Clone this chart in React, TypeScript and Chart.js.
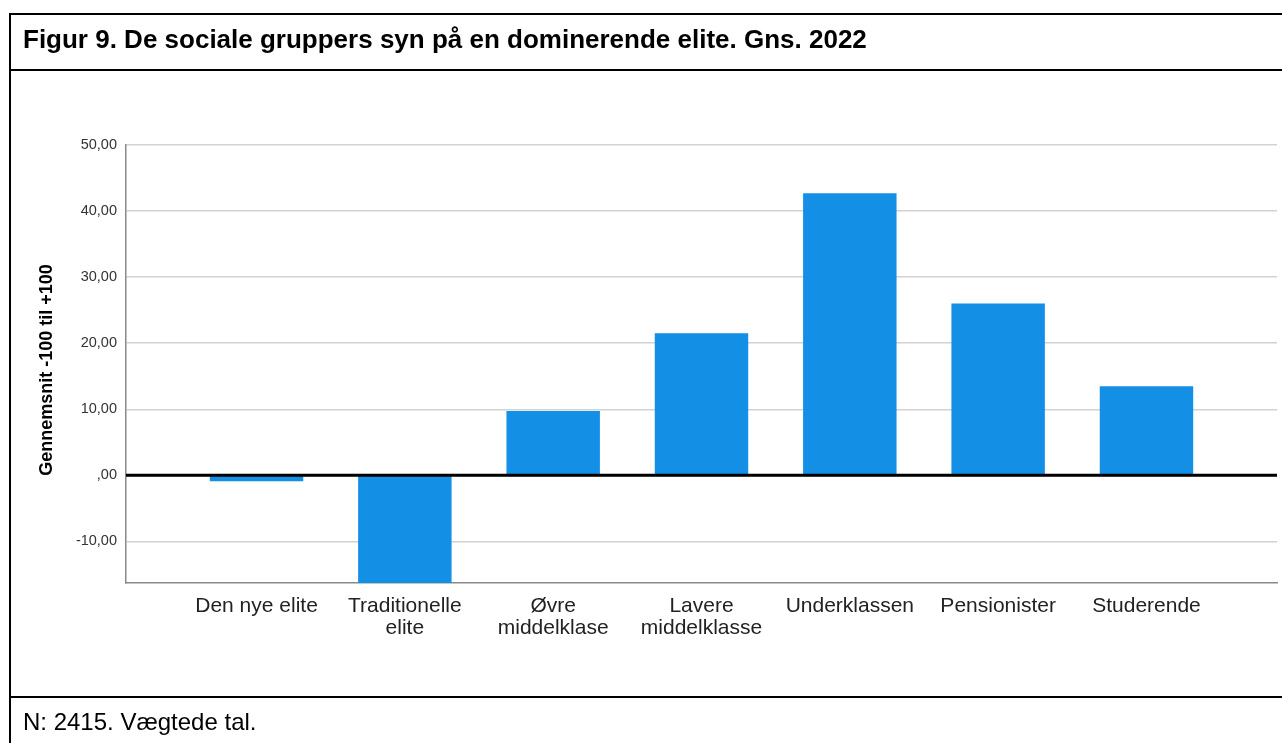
import React, { useEffect, useRef } from "react";
import { Chart, registerables } from "chart.js";

Chart.register(...registerables);

const titleText = "Figur 9. De sociale gruppers syn på en dominerende elite. Gns. 2022";
const footerText = "N: 2415. Vægtede tal.";
const yAxisTitle = "Gennemsnit -100 til +100";

const categories: (string | string[])[] = [
  "Den nye elite",
  ["Traditionelle", "elite"],
  ["Øvre", "middelklase"],
  ["Lavere", "middelklasse"],
  "Underklassen",
  "Pensionister",
  "Studerende",
];

const values: number[] = [-0.9, -18, 9.75, 21.5, 42.7, 26.0, 13.5];

const yMin = -16.3;
const yMax = 50;
const yStep = 10;

const FONT = "'Liberation Sans', Arial, sans-serif";

function formatTick(v: number): string {
  if (Math.abs(v) < 1e-9) return ",00";
  return v.toFixed(2).replace(".", ",");
}

const zeroLinePlugin = {
  id: "zeroLine",
  afterDatasetsDraw(chart: any) {
    const { ctx, chartArea, scales } = chart;
    const y0 = scales.y.getPixelForValue(0);
    ctx.save();
    ctx.strokeStyle = "#000";
    ctx.lineWidth = 3;
    ctx.beginPath();
    ctx.moveTo(chartArea.left, y0);
    ctx.lineTo(chartArea.right, y0);
    ctx.stroke();
    ctx.restore();
  },
};

const yTitlePlugin = {
  id: "yTitle",
  afterDraw(chart: any) {
    const { ctx } = chart;
    ctx.save();
    ctx.translate(47, 370);
    ctx.rotate(-Math.PI / 2);
    ctx.font = `bold 18px ${FONT}`;
    ctx.fillStyle = "#000";
    ctx.textAlign = "center";
    ctx.textBaseline = "middle";
    ctx.fillText(yAxisTitle, 0, 0);
    ctx.restore();
  },
};

export default function App() {
  const ref = useRef<HTMLCanvasElement | null>(null);

  useEffect(() => {
    if (!ref.current) return;
    const chart = new Chart(ref.current, {
      type: "bar",
      data: {
        datasets: [
          {
            data: values.map((v, i) => ({ x: i, y: v })),
            backgroundColor: "#1390e6",
            borderWidth: 0,
            categoryPercentage: 1,
            barPercentage: 0.63,
          },
        ],
      },
      options: {
        responsive: false,
        animation: false,
        devicePixelRatio: 1,
        layout: { padding: { top: 145, right: 5, bottom: 0, left: 0 } },
        plugins: {
          legend: { display: false },
          tooltip: { enabled: false },
        },
        scales: {
          x: {
            type: "linear",
            offset: false,
            min: -0.88,
            max: 6.88,
            grid: { display: false, drawTicks: false, offset: false },
            border: { display: true, color: "#8a8a8a", width: 1.5 },
            afterBuildTicks: (scale: any) => {
              scale.ticks = categories.map((_, i) => ({ value: i }));
            },
            afterFit: (scale: any) => {
              scale.height = 160;
            },
            ticks: {
              autoSkip: false,
              maxRotation: 0,
              minRotation: 0,
              padding: 12,
              color: "#222",
              font: { family: FONT, size: 21, lineHeight: 1.05 },
              callback: (v: any) => categories[Math.round(Number(v))] as any,
            },
          },
          y: {
            min: yMin,
            max: yMax,
            grid: {
              color: "#d2d2d2",
              lineWidth: 1.5,
              drawTicks: false,
            },
            border: { display: true, color: "#8a8a8a", width: 1.5 },
            afterFit: (scale: any) => {
              scale.width = 126;
            },
            ticks: {
              stepSize: yStep,
              includeBounds: false,
              padding: 9,
              color: "#333",
              font: { family: FONT, size: 14.5 },
              callback: (v: any) => formatTick(Number(v)),
            },
          },
        },
      },
      plugins: [zeroLinePlugin, yTitlePlugin],
    } as any);
    return () => chart.destroy();
  }, []);

  return (
    <div style={{ position: "absolute", left: 0, top: 0, width: 1282, height: 743, background: "#fff", overflow: "hidden" }}>
      <canvas ref={ref} width={1282} height={743} style={{ position: "absolute", left: 0, top: 0, width: 1282, height: 743 }} />
      <div style={{ position: "absolute", left: 9, top: 13, width: 2, height: 730, background: "#000" }} />
      <div style={{ position: "absolute", left: 9, top: 13, width: 1273, height: 2, background: "#000" }} />
      <div style={{ position: "absolute", left: 9, top: 69, width: 1273, height: 2, background: "#000" }} />
      <div style={{ position: "absolute", left: 9, top: 696, width: 1273, height: 2, background: "#000" }} />
      <div style={{ position: "absolute", left: 23, top: 13, height: 52, display: "flex", alignItems: "center", fontFamily: FONT, fontWeight: "bold", fontSize: 26, color: "#000", whiteSpace: "nowrap" }}>
        {titleText}
      </div>
      <div style={{ position: "absolute", left: 23, top: 700, height: 44, display: "flex", alignItems: "center", fontFamily: FONT, fontSize: 24, color: "#000", whiteSpace: "nowrap" }}>
        {footerText}
      </div>
    </div>
  );
}
